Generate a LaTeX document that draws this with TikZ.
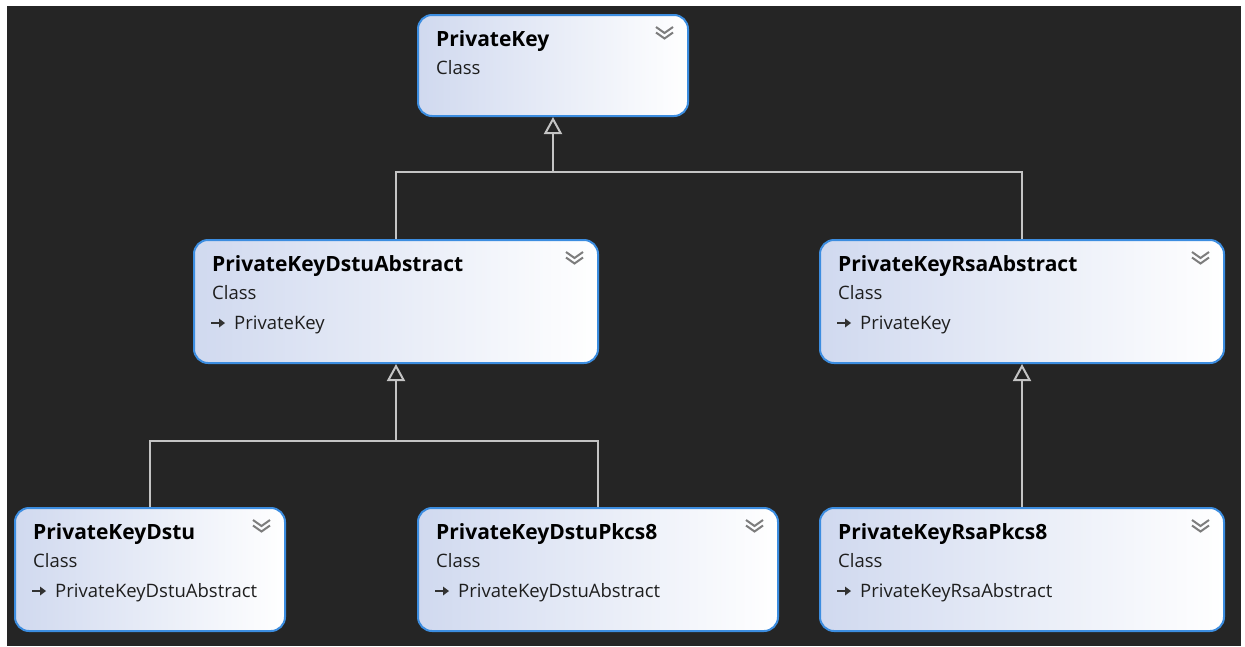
\documentclass[tikz,border=0pt]{standalone}
\usepackage{fontspec}
\setmainfont{Open Sans}
\usetikzlibrary{arrows.meta,calc}
\definecolor{bgc}{RGB}{37,37,37}
\definecolor{boxborder}{RGB}{60,141,224}
\definecolor{boxl}{RGB}{208,217,239}
\definecolor{txt}{RGB}{30,30,30}
\definecolor{lin}{RGB}{196,196,196}
\definecolor{chevc}{RGB}{125,125,125}
\definecolor{iconc}{RGB}{50,50,50}
\newcommand\chevmark[1]{%
  \draw[chevst] ($(#1.north east)+(-33,13)$) -- ++(8.5,6) -- ++(8.5,-6);
  \draw[chevst] ($(#1.north east)+(-33,18.5)$) -- ++(8.5,6) -- ++(8.5,-6);}
\newcommand\inhicon[1]{%
  \draw[iconc, line width=1.6pt] ($(#1.north west)+(18,84)$) -- ++(9,0);
  \fill[iconc] ($(#1.north west)+(26,79.5)$) -- ++(6,4.5) -- ++(-6,4.5) -- cycle;}
\begin{document}
\begin{tikzpicture}[x=1pt,y=-1pt,
  cls/.style={draw=boxborder, line width=2pt, rounded corners=14pt, left color=boxl, right color=white, inner sep=0pt},
  ttl/.style={anchor=base west, font=\fontsize{21}{25}\selectfont\bfseries, text=black, inner sep=0pt},
  sub/.style={anchor=base west, font=\fontsize{18.5}{22}\selectfont, text=txt, inner sep=0pt},
  chevst/.style={draw=chevc, line width=2pt},
  link/.style={draw=lin, line width=2pt},
  inh/.style={link, -{Triangle[open, width=18pt, length=17pt, line width=2pt]}}]
\useasboundingbox (0,0) rectangle (1245,646);
\fill[white] (0,0) rectangle (1245,646);
\fill[bgc] (7,6) rectangle (1241,646);
% boxes
\node[cls, minimum width=270pt, minimum height=101pt] (pk) at (553,65.5) {};
\node[cls, minimum width=404pt, minimum height=123pt] (dabs) at (396,301.5) {};
\node[cls, minimum width=404pt, minimum height=123pt] (rabs) at (1022,301.5) {};
\node[cls, minimum width=270pt, minimum height=123pt] (dstu) at (150,569.5) {};
\node[cls, minimum width=360pt, minimum height=123pt] (dpk) at (598,569.5) {};
\node[cls, minimum width=404pt, minimum height=123pt] (rpk) at (1022,569.5) {};
% texts
\node[ttl] (pkt) at ($(pk.north west)+(19,32)$) {PrivateKey};
\node[sub] (pkc) at ($(pk.north west)+(19,60)$) {Class};
\foreach \b/\t/\p in {dabs/PrivateKeyDstuAbstract/PrivateKey, rabs/PrivateKeyRsaAbstract/PrivateKey,
  dstu/PrivateKeyDstu/PrivateKeyDstuAbstract, dpk/PrivateKeyDstuPkcs8/PrivateKeyDstuAbstract,
  rpk/PrivateKeyRsaPkcs8/PrivateKeyRsaAbstract}{
  \node[ttl] (\b t) at ($(\b.north west)+(19,32)$) {\t};
  \node[sub] (\b c) at ($(\b.north west)+(19,60)$) {Class};
  \node[sub] (\b p) at ($(\b.north west)+(41,90)$) {\p};
  \inhicon{\b}
  \chevmark{\b}
}
\chevmark{pk}
% connectors
\coordinate (j1) at (553,172);
\coordinate (j2) at (396,441);
\draw[link] (dabs.north) |- (j1);
\draw[link] (rabs.north) |- (j1);
\draw[inh] (j1) -- (pk.south);
\draw[link] (dstu.north) |- (j2);
\draw[link] (dpk.north) |- (j2);
\draw[inh] (j2) -- (dabs.south);
\draw[inh] (rpk.north) -- (rabs.south);
\end{tikzpicture}
\end{document}
